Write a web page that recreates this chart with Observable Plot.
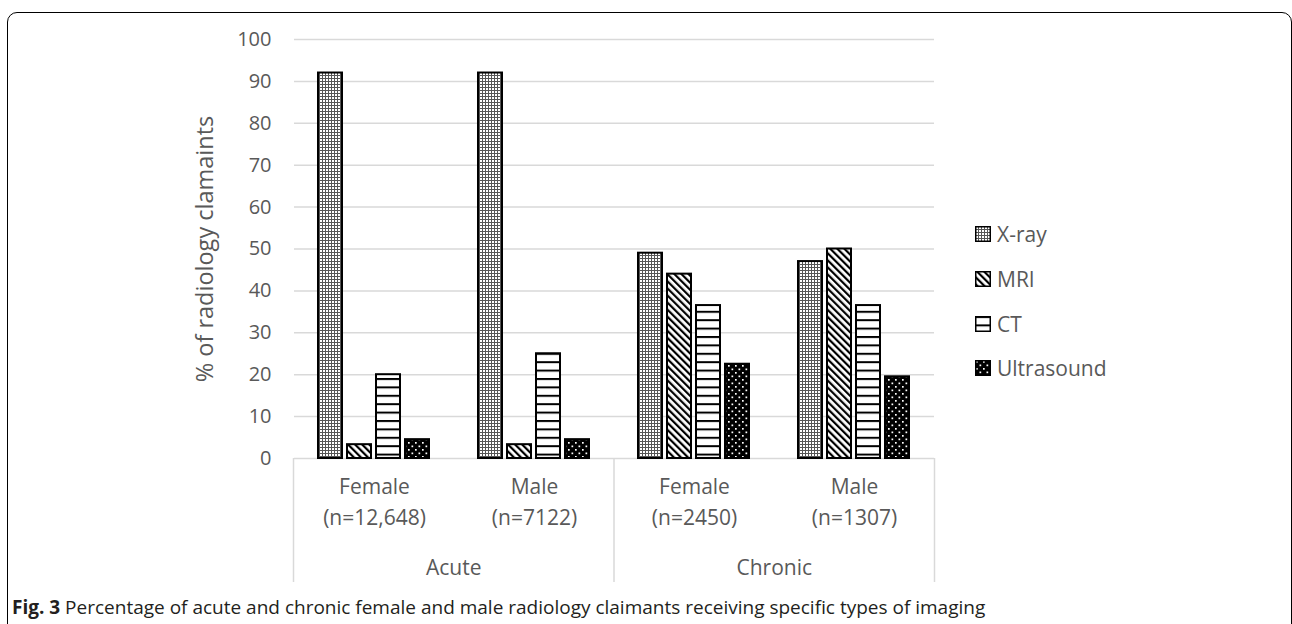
<!DOCTYPE html>
<html><head><meta charset="utf-8">
<script src="https://cdn.jsdelivr.net/npm/d3@7"></script>
<script src="https://cdn.jsdelivr.net/npm/@observablehq/plot@0.6"></script>
<style>
html,body{margin:0;padding:0;background:#fff;}
#wrap{position:relative;width:1292px;height:624px;overflow:hidden;font-family:"Open Sans",sans-serif;}
#frame{position:absolute;left:7px;top:12px;width:1285px;height:700px;border:1.5px solid #000;border-radius:10px;box-sizing:border-box;}
#chart,#axis2{position:absolute;left:0;top:0;}
#legend{position:absolute;left:975px;top:212px;}
.row{display:flex;align-items:center;height:44.7px;font-size:21px;color:#595959;}
.row svg{margin-right:6px;}
#caption{position:absolute;left:12px;top:597px;font-size:19px;line-height:20px;color:#231f20;white-space:nowrap;}
</style></head><body>
<svg width="0" height="0" style="position:absolute"><defs>
<pattern id="pat-xray" patternUnits="userSpaceOnUse" width="3" height="3">
 <rect width="3" height="3" fill="#fff"/><rect width="3" height="1" fill="#555"/><rect width="1" height="3" fill="#555"/>
</pattern>
<pattern id="pat-mri" patternUnits="userSpaceOnUse" width="5" height="5" patternTransform="rotate(-45)">
 <rect width="5" height="5" fill="#fff"/><rect width="2.2" height="5" fill="#000"/>
</pattern>
<pattern id="pat-ct" patternUnits="userSpaceOnUse" width="10" height="8.4">
 <rect width="10" height="8.4" fill="#fff"/><rect width="10" height="2" fill="#000"/>
</pattern>
<pattern id="pat-us" patternUnits="userSpaceOnUse" width="7" height="7">
 <rect width="7" height="7" fill="#000"/><rect x="1" y="1" width="1.7" height="1.7" fill="#fff"/><rect x="4.5" y="4.5" width="1.7" height="1.7" fill="#fff"/>
</pattern>
</defs></svg>
<div id="wrap"><div id="frame"></div><div id="chart"></div><div id="axis2"></div><div id="legend"></div><div id="caption"></div></div>
<script>
// ---- data ----
const groups = ["Female\n(n=12,648)", "Male\n(n=7122)", "Female\n(n=2450)", "Male\n(n=1307)"];
const conditions = ["Acute", "Chronic"];
const modalities = ["X-ray", "MRI", "CT", "Ultrasound"];
const patternIds = ["pat-xray", "pat-mri", "pat-ct", "pat-us"];
const xray = [92, 92, 49, 47];
const mri = [3.3, 3.3, 44, 50];
const ct = [20, 25, 36.5, 36.5];
const ultrasound = [4.5, 4.5, 22.5, 19.5];
const yTicks = [0, 10, 20, 30, 40, 50, 60, 70, 80, 90, 100];
const yLabel = "% of radiology clamaints";
const captionBold = "Fig. 3";
const captionText = " Percentage of acute and chronic female and male radiology claimants receiving specific types of imaging";

const series = [xray, mri, ct, ultrasound];
const data = groups.flatMap((g, i) => modalities.map((m, j) => ({group: g, modality: m, value: series[j][i]})));

const W = 1292, H = 624;
const style = {fontFamily: "'Open Sans', sans-serif", background: "transparent", overflow: "visible"};

const chart = Plot.plot({
  width: W, height: H,
  marginTop: 39, marginBottom: H - 458, marginLeft: 293, marginRight: W - 934,
  style,
  fx: {domain: groups, padding: 0, label: null},
  x: {domain: modalities, paddingInner: 0.157, paddingOuter: 0.78, axis: null},
  y: {domain: [0, 100], label: null},
  color: {type: "ordinal", domain: modalities, range: patternIds.map(id => `url(#${id})`)},
  marks: [
    Plot.ruleY(yTicks, {stroke: "#d9d9d9", strokeWidth: 1.5}),
    Plot.axisY(yTicks, {tickSize: 0, tickPadding: 23, fontSize: 20, color: "#595959",
      label: null}),
    Plot.axisY({tickSize: 0, ticks: [], fontSize: 23.5, color: "#595959",
      label: yLabel, labelAnchor: "center", labelOffset: 98, labelArrow: "none"}),
    Plot.axisFx({anchor: "bottom", tickSize: 0, tickPadding: 13, fontSize: 21, lineHeight: 1.476,
      color: "#595959", label: null}),
    Plot.barY(data, {fx: "group", x: "modality", y: "value", fill: "modality", stroke: "#000", strokeWidth: 2})
  ]
});
document.getElementById("chart").appendChild(chart);

const axis2 = Plot.plot({
  width: W, height: H,
  marginTop: 458, marginBottom: H - 582, marginLeft: 293, marginRight: W - 934,
  style,
  x: {domain: [0, conditions.length], axis: null},
  marks: [
    Plot.ruleX(d3.range(conditions.length + 1), {stroke: "#d9d9d9", strokeWidth: 1.5}),
    Plot.text(conditions, {x: (d, i) => i + 0.5, text: d => d, frameAnchor: "bottom", dy: -8,
      fontSize: 21, fill: "#595959"})
  ]
});
document.getElementById("axis2").appendChild(axis2);

const legend = d3.select("#legend");
modalities.forEach((m, i) => {
  const row = legend.append("div").attr("class", "row");
  const s = row.append("svg").attr("width", 16).attr("height", 16);
  s.append("rect").attr("x", 0.75).attr("y", 0.75).attr("width", 14.5).attr("height", 14.5)
    .attr("fill", `url(#${patternIds[i]})`).attr("stroke", "#000").attr("stroke-width", 1.5);
  row.append("span").text(m);
});

const cap = d3.select("#caption");
cap.append("b").text(captionBold);
cap.append("span").text(captionText);
</script>
</body></html>
